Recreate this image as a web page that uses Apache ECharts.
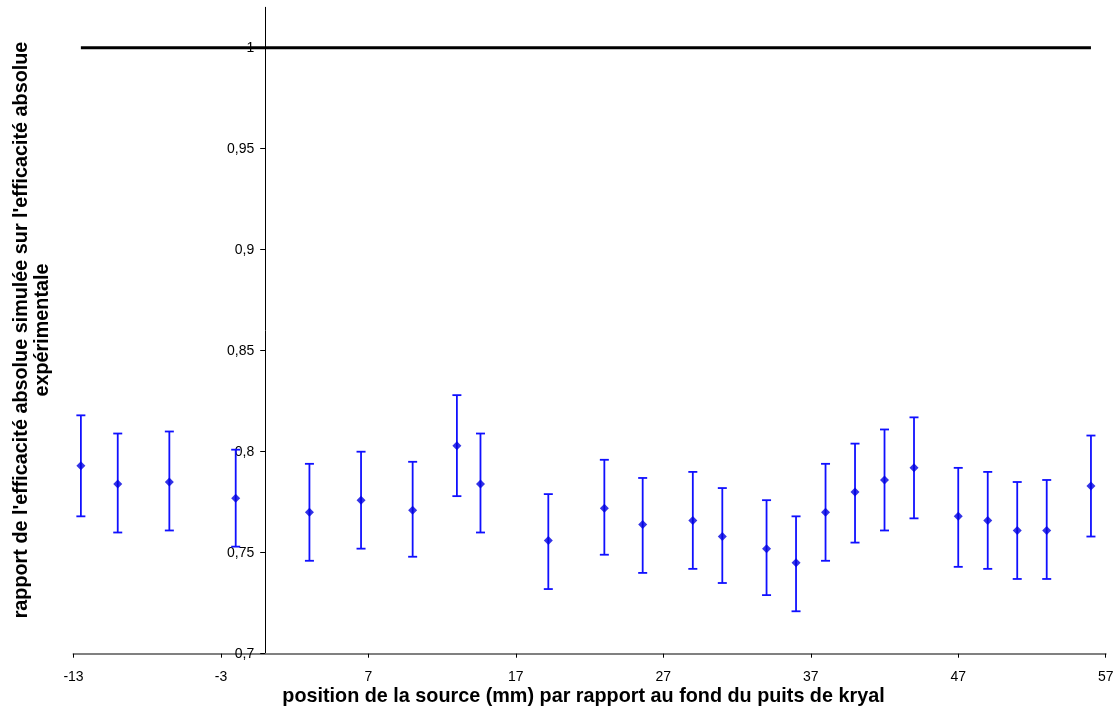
<!DOCTYPE html>
<html>
<head>
<meta charset="utf-8">
<script src="https://cdn.jsdelivr.net/npm/echarts@6/dist/echarts.min.js"></script>
<style>
html,body{margin:0;padding:0;background:#fff;}
#c{width:1119px;height:709px;}
</style>
</head>
<body>
<div id="c"></div>
<script>
// positions (mm)
const xPos = [-12.5,-10,-6.5,-2,3,6.5,10,13,14.6,19.2,23,25.6,29,31,34,36,38,40,42,44,47,49,51,53,56];
// ratio simulated / experimental
const ratio = [0.793,0.784,0.785,0.777,0.770,0.776,0.771,0.803,0.784,0.756,0.772,0.764,0.766,0.758,0.752,0.745,0.770,0.780,0.786,0.792,0.768,0.766,0.761,0.761,0.783];
const upper = [0.818,0.809,0.810,0.801,0.794,0.800,0.795,0.828,0.809,0.779,0.796,0.787,0.790,0.782,0.776,0.768,0.794,0.804,0.811,0.817,0.792,0.790,0.785,0.786,0.808];
const lower = [0.768,0.760,0.761,0.753,0.746,0.752,0.748,0.778,0.760,0.732,0.749,0.740,0.742,0.735,0.729,0.721,0.746,0.755,0.761,0.767,0.743,0.742,0.737,0.737,0.758];
// reference line y = 1
const refX = [-12.5, 56];
const refY = [1, 1];
// y tick values
const yTicks = [0.7, 0.75, 0.8, 0.85, 0.9, 0.95, 1];
const xTitle = "position de la source (mm) par rapport au fond du puits de kryal";
const yTitle1 = "rapport de l'efficacité absolue simulée sur l'efficacité absolue";
const yTitle2 = "expérimentale";

const chart = echarts.init(document.getElementById('c'), null, {renderer:'canvas'});
const font = "'Liberation Sans', Arial, sans-serif";

const errData = xPos.map((x,i)=>[x, lower[i], upper[i]]);
const ptData = xPos.map((x,i)=>[x, ratio[i]]);
const refData = refX.map((x,i)=>[x, refY[i]]);

const option = {
  animation: false,
  backgroundColor: '#fff',
  grid: {left: 73.5, right: 13.3, top: 7.3, bottom: 55.3, containLabel: false},
  xAxis: {
    type: 'value', min: -13, max: 57, interval: 10,
    axisLine: {onZero: false, lineStyle: {color: '#808080', width: 2}},
    axisTick: {show: true, inside: false, length: 4, lineStyle: {color: '#000', width: 1}},
    axisLabel: {color: '#000', fontSize: 14, fontFamily: font, margin: 16, showMaxLabel: true, showMinLabel: true},
    splitLine: {show: false}
  },
  yAxis: {
    type: 'value', min: 0.7, max: 1.02, interval: 0.05,
    position: 'left', offset: -191.7,
    axisLine: {show: true, onZero: false, lineStyle: {color: '#000', width: 1}},
    axisTick: {show: true, inside: false, length: 5, customValues: yTicks, lineStyle: {color: '#000', width: 1}},
    axisLabel: {color: '#000', fontSize: 14, fontFamily: font, margin: 11, customValues: yTicks,
      formatter: v => (v > 1.001 ? '' : String(Math.round(v*100)/100).replace('.', ','))},
    splitLine: {show: false}
  },
  series: [
    {
      type: 'line', data: refData, symbol: 'none', z: 3,
      lineStyle: {color: '#000', width: 3}
    },
    {
      type: 'custom', z: 4,
      data: errData,
      renderItem: function (params, api) {
        const x = api.value(0);
        const lo = api.coord([x, api.value(1)]);
        const hi = api.coord([x, api.value(2)]);
        const hw = 4.5;
        const st = {stroke: '#1010ff', lineWidth: 1.8};
        return {
          type: 'group',
          children: [
            {type: 'line', shape: {x1: lo[0], y1: lo[1], x2: hi[0], y2: hi[1]}, style: st},
            {type: 'line', shape: {x1: lo[0]-hw, y1: lo[1], x2: lo[0]+hw, y2: lo[1]}, style: st},
            {type: 'line', shape: {x1: hi[0]-hw, y1: hi[1], x2: hi[0]+hw, y2: hi[1]}, style: st}
          ]
        };
      }
    },
    {
      type: 'scatter', z: 5, data: ptData, symbol: 'diamond', symbolSize: 9,
      itemStyle: {color: '#0000e0'}
    }
  ],
  graphic: [
    {type: 'text', x: 583.5, y: 697,
      style: {text: xTitle, font: "bold 19.8px " + font, fill: '#000', textAlign: 'center', textVerticalAlign: 'middle'}},
    {type: 'text', x: 22, y: 330, rotation: Math.PI/2,
      style: {text: yTitle1, font: "bold 19.8px " + font, fill: '#000', textAlign: 'center', textVerticalAlign: 'middle'}},
    {type: 'text', x: 43, y: 330, rotation: Math.PI/2,
      style: {text: yTitle2, font: "bold 19.8px " + font, fill: '#000', textAlign: 'center', textVerticalAlign: 'middle'}}
  ]
};
chart.setOption(option);
</script>
</body>
</html>
